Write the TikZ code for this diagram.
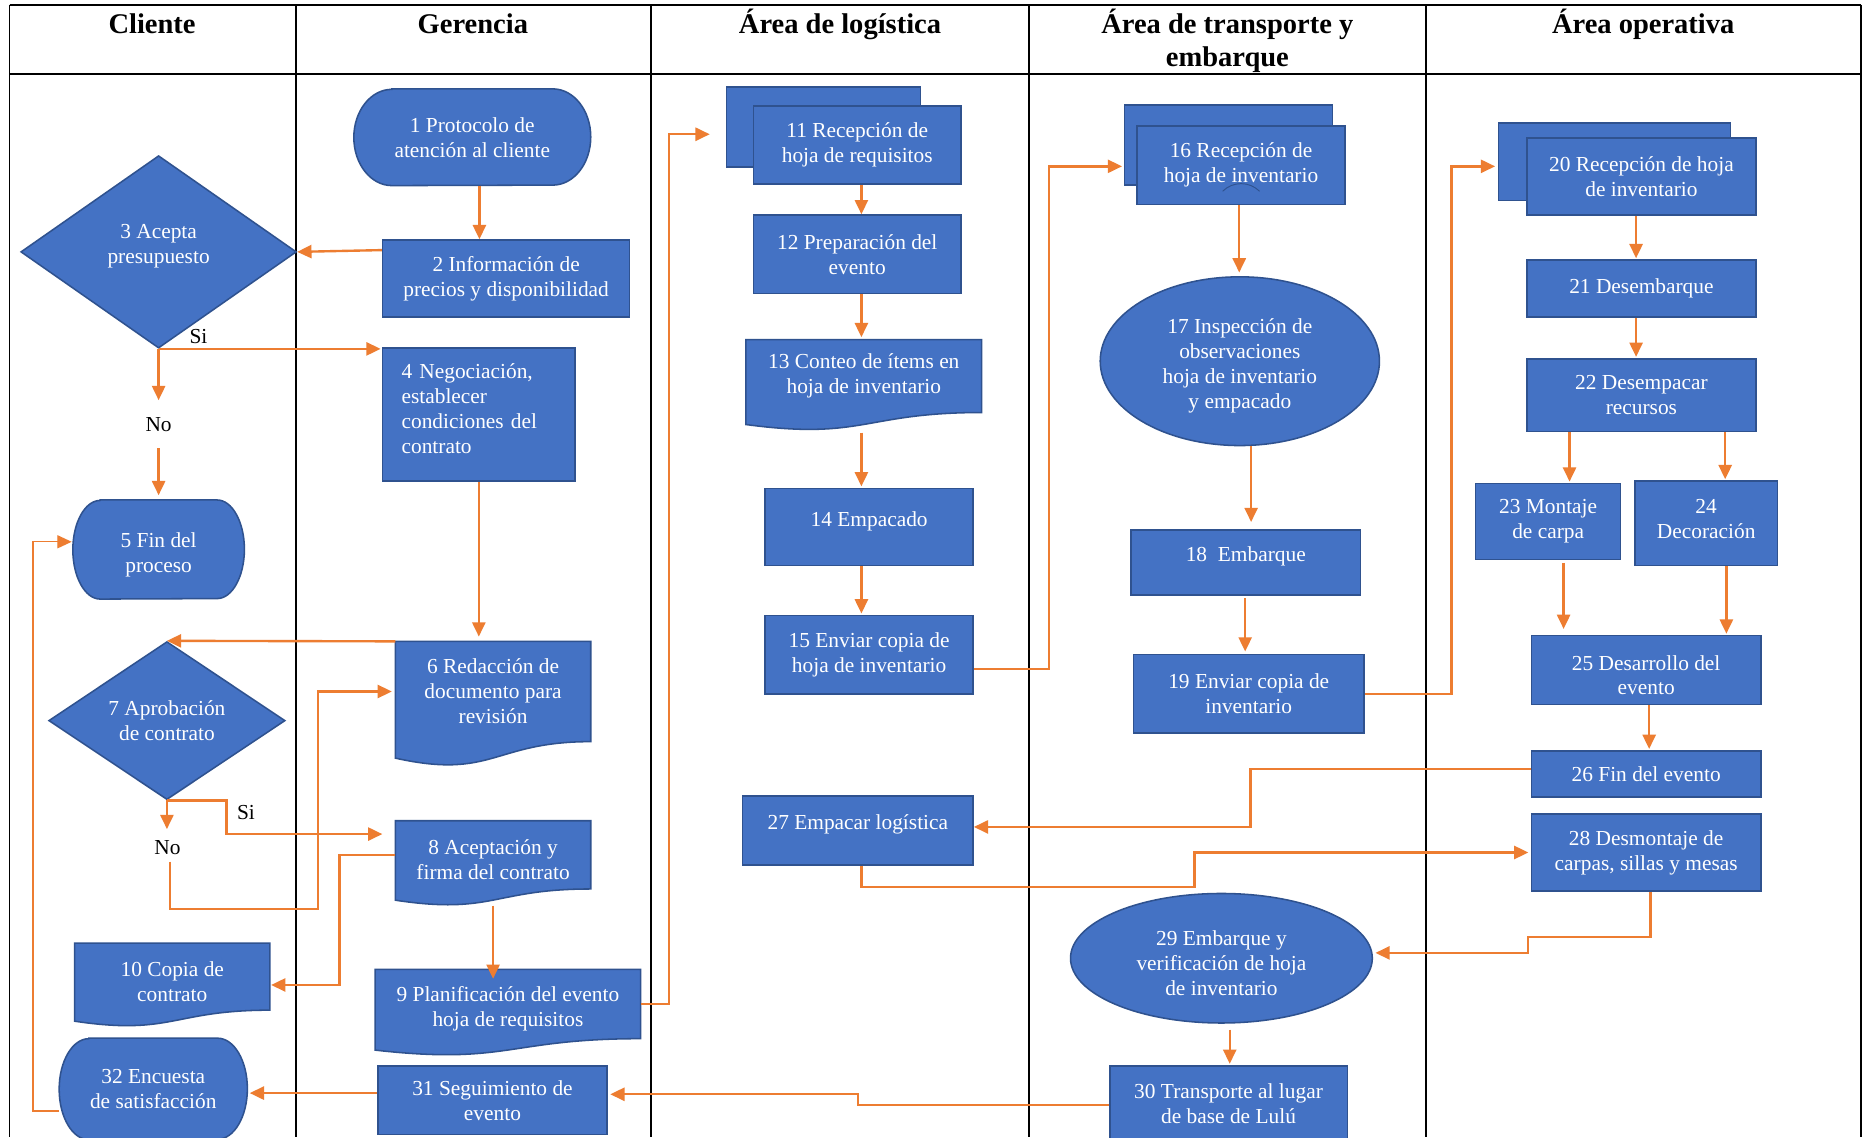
\documentclass[tikz,border=0pt]{standalone}
\usepackage{fontspec}
\setmainfont{Liberation Serif}
\usetikzlibrary{arrows.meta,shapes.geometric,calc}
\definecolor{boxblue}{HTML}{4472C4}
\definecolor{boxline}{HTML}{2F528F}
\definecolor{flow}{HTML}{ED7D31}
\pgfdeclarelayer{bg}
\pgfsetlayers{bg,main}
% empty trailing line that lifts a label towards the top of its box
\newcommand{\lift}[1][-7pt]{\\[#1]\mbox{}}
% empty leading line that lowers a label a little
\newcommand{\drop}{\mbox{}\\}

\begin{document}
\begin{tikzpicture}[x=1pt, y=-1pt,
  txt/.style={font=\fontsize{18}{21}\selectfont, text=white, align=center, inner sep=2pt},
  box/.style={txt, rectangle, draw=boxline, line width=1.3pt, fill=boxblue},
  doc/.style={txt, rectangle, draw=none},
  term/.style={txt, rectangle, draw=none},
  dia/.style={txt, diamond, shape aspect=1.5, draw=boxline, line width=1.3pt, fill=boxblue},
  ell/.style={txt, ellipse, draw=boxline, line width=1.3pt, fill=boxblue},
  outline/.style={draw=boxline, line width=1.3pt, fill=boxblue},
  arr/.style={draw=flow, line width=2pt, -{Triangle[length=12pt,width=11pt]}},
  thinarr/.style={arr, line width=1pt},
  lbl/.style={font=\fontsize{18}{21}\selectfont, inner sep=1pt},
  head/.style={font=\fontsize{24}{28}\selectfont\bfseries, align=center, inner sep=0pt},
  lane/.style={line width=1.6pt, black}
]

\useasboundingbox (0,0) rectangle (1568,957);

% page and swimlane table
\begin{pgfonlayer}{bg}
  \fill[white] (0,0) rectangle (1568,957);
  \draw[lane] (8,4) -- (1566,4) (8,62) -- (1566,62);
  \foreach \x in {8,249,548,866,1200,1566} \draw[lane] (\x,4) -- (\x,957);
\end{pgfonlayer}

% lane headings
\node[head, anchor=base] (hcli) at (128,28) {Cliente};
\node[head, anchor=base] (hger) at (398,28) {Gerencia};
\node[head, anchor=base] (hlog) at (707,28) {Área de logística};
\node[head, anchor=base] (htra) at (1033,56) {Área de transporte y\\embarque};
\node[head, anchor=base] (hope) at (1383,28) {Área operativa};

% Cliente / Gerencia
\node[term, minimum width=199, minimum height=81] (n1) at (397.5,115.5) {1 Protocolo de\\atención al cliente};
\node[box, minimum width=208, minimum height=65] (n2) at (426,234.5) {2 Información de\\precios y disponibilidad};
\node[dia, minimum width=232, minimum height=162] (n3) at (133.5,212) {3 Acepta\\presupuesto\lift};
\node[box, minimum width=162, minimum height=112, text width=130pt, align=left, inner xsep=16pt] (n4) at (403,349) {4 Negociación,\\establecer\\condiciones del\\contrato\lift[-11pt]};
\node[term, minimum width=144, minimum height=83] (n5) at (133.5,462.5) {\drop 5 Fin del\\proceso};
\node[doc, minimum width=164, minimum height=84] (n6) at (415,582) {6 Redacción de\\documento para\\revisión};
\node[dia, minimum width=199, minimum height=133] (n7) at (140.5,606.5) {7 Aprobación\\de contrato};
\node[doc, minimum width=164, minimum height=57] (n8) at (415,719.5) {\drop 8 Aceptación y\\firma del contrato};
\node[doc, minimum width=223, minimum height=58] (n9) at (427.5,845) {\drop 9 Planificación del evento\\hoja de requisitos};
\node[doc, minimum width=164, minimum height=56] (n10) at (145,822) {\drop 10 Copia de\\contrato};
\node[box, minimum width=193, minimum height=58] (n31) at (414.5,926) {31 Seguimiento de\\evento};
\node[term, minimum width=158, minimum height=85] (n32) at (129,916.5) {32 Encuesta\\de satisfacción};

% Área de logística
\node[box, minimum width=175, minimum height=66] (n11) at (721.5,122) {11 Recepción de\\hoja de requisitos};
\node[box, minimum width=175, minimum height=66] (n12) at (721.5,214) {12 Preparación del\\evento};
\node[doc, minimum width=198, minimum height=61] (n13) at (727,316.5) {13 Conteo de ítems en\\hoja de inventario};
\node[box, minimum width=175, minimum height=65] (n14) at (731.5,443.5) {14 Empacado\lift};
\node[box, minimum width=175, minimum height=66] (n15) at (731.5,551) {15 Enviar copia de\\hoja de inventario};
\node[box, minimum width=194, minimum height=58] (n27) at (722,699) {27 Empacar logística\lift};

% Área de transporte y embarque
\node[box, minimum width=175, minimum height=66] (n16) at (1044.5,139) {16 Recepción de\\hoja de inventario};
\node[ell, minimum width=235, minimum height=142] (n17) at (1043.5,304) {\drop 17 Inspección de\\observaciones\\hoja de inventario\\y empacado};
\node[box, minimum width=193, minimum height=55] (n18) at (1048.5,473.5) {18\ \ Embarque\lift};
\node[box, minimum width=194, minimum height=66] (n19) at (1051,584) {19 Enviar copia de\\inventario};
\node[ell, minimum width=254, minimum height=109] (n29) at (1028,806.5) {\drop 29 Embarque y\\verificación de hoja\\de inventario};
\node[box, minimum width=200, minimum height=64] (n30) at (1034,929) {30 Transporte al lugar\\de base de Lulú};

% Área operativa
\node[box, minimum width=193, minimum height=65] (n20) at (1381.5,148.5) {20 Recepción de hoja\\de inventario};
\node[box, minimum width=193, minimum height=48] (n21) at (1381.5,243) {21 Desembarque};
\node[box, minimum width=193, minimum height=61] (n22) at (1381.5,332.5) {22 Desempacar\\recursos};
\node[box, minimum width=122, minimum height=64] (n23) at (1303,439) {23 Montaje\\de carpa};
\node[box, minimum width=120, minimum height=71] (n24) at (1436,440.5) {24\\Decoración\lift[-13pt]};
\node[box, minimum width=193, minimum height=58] (n25) at (1385.5,564) {\drop 25 Desarrollo del\\evento};
\node[box, minimum width=193, minimum height=39] (n26) at (1385.5,651.5) {26 Fin del evento};
\node[box, minimum width=193, minimum height=65] (n28) at (1385.5,717.5) {28 Desmontaje de\\carpas, sillas y mesas};

% decision labels
\node[lbl] (si3) at (167,283) {Si};
\node[lbl] (no3) at (133.5,357) {No};
\node[lbl] (si7) at (207,684) {Si};
\node[lbl] (no7) at (141,713) {No};

% outlines drawn beneath the labels
\begin{pgfonlayer}{bg}
  % second sheet of the multi-document boxes
  \draw[outline] ($(n11.north west)+(-22,-15)$) rectangle ($(n11.south east)+(-35,-15)$);
  \draw[outline] ($(n16.north west)+(-10,-17)$) rectangle ($(n16.south east)+(-11,-17)$);
  \draw[outline] ($(n20.north west)+(-23,-12)$) rectangle ($(n20.south east)+(-22,-13)$);
  % document symbols with a wavy lower edge
  \foreach \n in {n6,n8,n9,n10,n13}
    \draw[outline] (\n.north west) -- (\n.north east) -- (\n.south east)
      .. controls (\n.south) and ($(\n.north)!1.381!(\n.south)$)
      .. ($(\n.north west)!1.1646!(\n.south west)$) -- cycle;
  % start / end terminators
  \foreach \n/\rx/\ry in {n1/32/40.5,n5/23/41.5,n32/25/42.5}
    \draw[outline] ([xshift=\rx pt]\n.north west) -- ([xshift=-\rx pt]\n.north east)
      arc[start angle=90,end angle=-90,x radius=\rx pt,y radius=\ry pt]
      -- ([xshift=\rx pt]\n.south west)
      arc[start angle=270,end angle=90,x radius=\rx pt,y radius=\ry pt] -- cycle;
\end{pgfonlayer}

% small mark under the text of box 16
\draw[boxline, line width=0.8pt] ([xshift=-15.5pt,yshift=-22pt]n16.center) arc[start angle=135,end angle=45,radius=22pt];

% flow: Gerencia / Cliente
\draw[arr] ([xshift=6pt]n1.south) -- ([xshift=6pt]n1.south |- n2.north);
\draw[arr] ([yshift=24pt]n2.west) -- (n3.east);
\draw[arr, shorten >=1pt] (n3.south) -- (n3.south -| n4.west);
\draw[arr, shorten >=13pt] (n3.south) -- (no3.north);
\draw[arr, shorten >=4pt] ([yshift=-13pt]no3.south) -- (no3.south |- n5.north);
\draw[arr, shorten >=4pt] (n4.south) -- (n4.south |- n6.north);
\draw[arr] (n6.north west) -- (n7.north);
\draw[arr] (n7.south) -- ++(50,0) |- ([xshift=-11pt,yshift=17.5pt]n8.west);
\draw[arr, shorten >=8pt] (n7.south) -- (n7.south |- no7.north);
\draw[arr, shorten >=3pt] ([xshift=2pt,yshift=-5pt]no7.south) -- ++(0,40) -| ([xshift=-65pt]n6.west) -- (n6.west);
\draw[arr, shorten >=1pt] (n8.west) -- ++(-47,0) |- ([yshift=-7pt]n10.east);
\draw[arr, shorten >=6pt] ([yshift=-14pt]n8.south) -- ([yshift=-14pt]n8.south |- n9.north);
\draw[arr] (n9.east) -- ++(24,0) |- ([xshift=-36pt,yshift=9pt]n11.west);
\draw[arr, shorten >=2pt] ([yshift=6pt]n31.west) -- ([yshift=-3.5pt]n32.east);
\draw[thinarr, shorten >=1pt] ([yshift=-18.5pt]n32.west) -- ++(-22,0) |- ([yshift=6.5pt]n5.west);

% flow: Área de logística
\draw[arr] ([xshift=3.5pt]n11.south) -- ([xshift=3.5pt]n11.south |- n12.north);
\draw[arr, shorten >=2pt] ([xshift=3.5pt]n12.south) -- ([xshift=3.5pt]n12.south |- n13.north);
\draw[arr, shorten >=1pt] ([xshift=-2pt,yshift=-17pt]n13.south) -- ([xshift=-2pt]n13.south |- n14.north);
\draw[arr, shorten >=1pt] ([xshift=-6.5pt]n14.south) -- ([xshift=-6.5pt]n14.south |- n15.north);
\draw[arr] ([yshift=-12pt]n15.east) -- ++(63,0) |- ([xshift=-12pt,yshift=-1pt]n16.west);
\draw[arr, shorten >=2pt] ([xshift=3pt]n27.south) -- ++(0,18) -| ([xshift=-283pt]n28.west) -- (n28.west);

% flow: Área de transporte y embarque
\draw[arr, shorten >=3pt] ([xshift=-1.5pt]n16.south) -- ([xshift=-1.5pt]n16.south |- n17.north);
\draw[arr, shorten >=6pt] ([xshift=9.5pt]n17.south) -- ([xshift=9.5pt]n17.south |- n18.north);
\draw[arr, shorten >=2pt] ([xshift=-0.5pt,yshift=-2pt]n18.south) -- ([xshift=-0.5pt]n18.south |- n19.north);
\draw[arr] (n19.east) -- ++(73,0) |- ([xshift=-26pt,yshift=8.5pt]n20.west);
\draw[arr, shorten >=1pt] ([xshift=7pt,yshift=-5pt]n29.south) -- ([xshift=7pt]n29.south |- n30.north);
\draw[arr, shorten >=2pt] ([yshift=-1pt]n30.west) -- ++(-211,0) |- ([yshift=5pt]n31.east);

% flow: Área operativa
\draw[arr, shorten >=1pt] ([xshift=-4.5pt]n20.south) -- ([xshift=-4.5pt]n20.south |- n21.north);
\draw[arr, shorten >=1pt] ([xshift=-4.5pt]n21.south) -- ([xshift=-4.5pt]n21.south |- n22.north);
\draw[arr, shorten >=1pt] ([xshift=-60.5pt]n22.south) -- ([xshift=-60.5pt]n22.south |- n23.north);
\draw[arr, shorten >=1pt] ([xshift=70.5pt]n22.south) -- ([xshift=70.5pt]n22.south |- n24.north);
\draw[arr, shorten >=5pt] ([xshift=13pt,yshift=-2pt]n23.south) -- ([xshift=13pt]n23.south |- n25.north);
\draw[arr, shorten >=1pt] ([xshift=17pt]n24.south) -- ([xshift=17pt]n24.south |- n25.north);
\draw[arr, shorten >=1pt] ([xshift=2.5pt]n25.south) -- ([xshift=2.5pt]n25.south |- n26.north);
\draw[arr] ([yshift=4.5pt]n26.west) -- ++(-236,0) |- ([yshift=3pt]n27.east);
\draw[arr, shorten >=2pt] ([xshift=3.5pt]n28.south) -- ++(0,38) -- ++(-103,0) |- ([yshift=4.5pt]n29.east);

\end{tikzpicture}
\end{document}
